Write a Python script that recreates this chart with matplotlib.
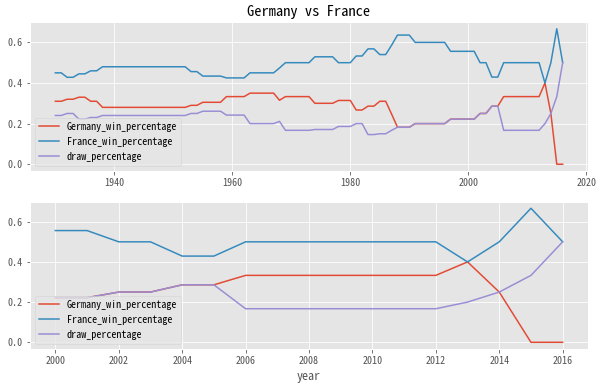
import matplotlib
matplotlib.use("Agg")
import matplotlib.pyplot as plt
from matplotlib import font_manager as fm
from matplotlib.font_manager import FontProperties

# ---------------- data ----------------
years = list(range(1930, 2017))

germany_win = [0.31, 0.31, 0.32, 0.32, 0.33, 0.33, 0.31, 0.31,
               0.28, 0.28, 0.28, 0.28, 0.28, 0.28, 0.28, 0.28, 0.28, 0.28, 0.28, 0.28, 0.28, 0.28, 0.28,
               0.29, 0.29,
               0.305, 0.305, 0.305, 0.305,
               0.333, 0.333, 0.333, 0.333,
               0.35, 0.35, 0.35, 0.35, 0.35,
               0.315,
               0.333, 0.333, 0.333, 0.333, 0.333,
               0.30, 0.30, 0.30, 0.30,
               0.314, 0.314, 0.314,
               0.267, 0.267,
               0.286, 0.286,
               0.31, 0.31,
               0.247,
               0.182, 0.182, 0.182,
               0.2, 0.2, 0.2, 0.2, 0.2, 0.2,
               0.222, 0.222, 0.222, 0.222, 0.222,
               0.25, 0.25,
               0.286, 0.286,
               0.333, 0.333, 0.333, 0.333, 0.333, 0.333, 0.333,
               0.4,
               0.25,
               0.0, 0.0]

france_win = [0.45, 0.45, 0.428, 0.428, 0.445, 0.445, 0.46, 0.46,
              0.48, 0.48, 0.48, 0.48, 0.48, 0.48, 0.48, 0.48, 0.48, 0.48, 0.48, 0.48, 0.48, 0.48, 0.48,
              0.456, 0.456,
              0.434, 0.434, 0.434, 0.434,
              0.425, 0.425, 0.425, 0.425,
              0.45, 0.45, 0.45, 0.45, 0.45,
              0.474,
              0.5, 0.5, 0.5, 0.5, 0.5,
              0.529, 0.529, 0.529, 0.529,
              0.5, 0.5, 0.5,
              0.533, 0.533,
              0.568, 0.568,
              0.54, 0.54,
              0.586,
              0.636, 0.636, 0.636,
              0.6, 0.6, 0.6, 0.6, 0.6, 0.6,
              0.556, 0.556, 0.556, 0.556, 0.556,
              0.5, 0.5,
              0.429, 0.429,
              0.5, 0.5, 0.5, 0.5, 0.5, 0.5, 0.5,
              0.4,
              0.5,
              0.667, 0.5]

draw_pct = [0.24, 0.24, 0.25, 0.25, 0.222, 0.222, 0.23, 0.23,
            0.24, 0.24, 0.24, 0.24, 0.24, 0.24, 0.24, 0.24, 0.24, 0.24, 0.24, 0.24, 0.24, 0.24, 0.24,
            0.25, 0.25,
            0.261, 0.261, 0.261, 0.261,
            0.242, 0.242, 0.242, 0.242,
            0.2, 0.2, 0.2, 0.2, 0.2,
            0.211,
            0.167, 0.167, 0.167, 0.167, 0.167,
            0.171, 0.171, 0.171, 0.171,
            0.186, 0.186, 0.186,
            0.2, 0.2,
            0.146, 0.146,
            0.15, 0.15,
            0.167,
            0.182, 0.182, 0.182,
            0.2, 0.2, 0.2, 0.2, 0.2, 0.2,
            0.222, 0.222, 0.222, 0.222, 0.222,
            0.25, 0.25,
            0.286, 0.286,
            0.167, 0.167, 0.167, 0.167, 0.167, 0.167, 0.167,
            0.2,
            0.25,
            0.333, 0.5]

series_names = ["Germany_win_percentage", "France_win_percentage", "draw_percentage"]
title_text = "Germany vs France"
xlabel_text = "year"
zoom_start = 2000

# ---------------- style ----------------
plt.style.use("ggplot")


def has_font(name):
    try:
        fm.findfont(FontProperties(family=name), fallback_to_default=False)
        return True
    except Exception:
        return False


if has_font("Noto Sans Mono CJK SC"):
    fam = ["Noto Sans Mono CJK SC", "DejaVu Sans Mono"]
    base = 10
else:
    fam = ["DejaVu Sans Mono"]
    base = 8.3

plt.rcParams["font.family"] = fam
plt.rcParams["font.size"] = base

DPI = 72
fig = plt.figure(figsize=(602 / DPI, 386 / DPI), dpi=DPI)

ax1 = fig.add_axes([0.0498, 0.557, 0.927, 0.386])
ax2 = fig.add_axes([0.0498, 0.0959, 0.927, 0.3819])

all_series = [germany_win, france_win, draw_pct]
for vals, name in zip(all_series, series_names):
    ax1.plot(years, vals, label=name)
ax1.set_title(title_text)
ax1.legend(loc="lower left")

idx = years.index(zoom_start)
for vals, name in zip(all_series, series_names):
    ax2.plot(years[idx:], vals[idx:], label=name)
ax2.set_xlabel(xlabel_text)
ax2.legend(loc="lower left")

fig.savefig("out.png", dpi=DPI)
